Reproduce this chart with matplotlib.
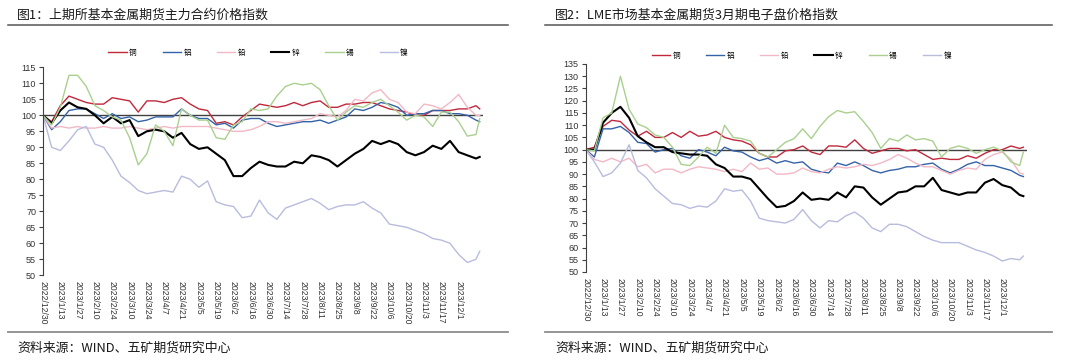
import pandas as pd
import matplotlib
matplotlib.use('Agg')
import matplotlib.pyplot as plt
from matplotlib.lines import Line2D

plt.rcParams['font.family'] = ['Noto Sans CJK SC', 'DejaVu Sans']

# weekly samples (index, 2022/12/30 = 100)
dates = list(pd.date_range('2022-12-30', periods=51, freq='7D')) + [pd.Timestamp('2023-12-18')]
tick_dates = pd.date_range('2022-12-30', '2023-12-01', freq='14D')
tick_labels = [f'{t.year}/{t.month}/{t.day}' for t in tick_dates]

metals = ['铜', '铝', '铅', '锌', '锡', '镍']
colors = ['#C0283C', '#3563A8', '#F2B8C6', '#000000', '#A9D08E', '#B8BCDD']
widths = [1.0, 1.0, 1.0, 1.5, 1.0, 1.0]

# 上期所
shfe_cu = [100, 98, 103, 106, 105, 104, 103.5, 103.5, 105.5, 105,
           104.5, 101, 104.5, 104.5, 104, 105, 105.5, 103.5, 102, 101.5,
           97.5, 98, 97, 99.5, 101.5, 103.5, 103, 102.5, 103, 104,
           103, 104, 104.5, 102.5, 102.5, 103.5, 103.5, 104, 104, 103,
           102, 101.5, 101, 100, 100, 101.5, 101.5, 101.5, 102, 102,
           103, 102]
shfe_al = [100, 95.5, 98, 101.5, 102, 102, 100.5, 99, 100.5, 99,
           99.5, 98, 98.5, 99.5, 99.5, 99.5, 102, 100, 99, 99,
           97, 97.5, 96, 98.5, 99, 99, 97.5, 96.5, 97, 97.5,
           98, 98, 98.5, 97.5, 98.5, 99.5, 102, 101.5, 102.5, 104,
           103.5, 102.5, 100, 100.5, 100.5, 101.5, 101.5, 100.5, 100.5, 100,
           98.5, 98]
shfe_pb = [100, 96, 96.5, 96, 96.5, 96, 96, 96.5, 96, 96,
           96.5, 96, 95.5, 96, 96.5, 96, 96.5, 96.5, 96.5, 96.5,
           96, 95.5, 95, 95, 95.5, 96.5, 98, 98, 97.5, 98,
           98.5, 99, 100.5, 100, 99.5, 101.5, 105, 104.5, 107, 108,
           105, 104, 101, 100.5, 103.5, 103, 102, 104, 106.5, 102.5,
           100, 100]
shfe_zn = [100, 97.5, 101.5, 104, 102.5, 102, 100, 97.5, 99.5, 97.5,
           98.5, 93.5, 95, 95.5, 95, 93, 94.5, 91, 89.5, 90,
           88, 86, 81, 81, 83.5, 85.5, 84.5, 84, 84, 85.5,
           85, 87.5, 87, 86, 84, 86, 88, 89.5, 92, 91,
           92, 91, 88.5, 87.5, 88.5, 90.5, 89.5, 92, 88.5, 87.5,
           86.5, 87]
shfe_sn = [100, 97, 102.5, 112.5, 112.5, 109, 103, 101.5, 99.5, 98.5,
           93, 84.5, 88, 97, 95, 90.5, 102, 100, 98.5, 98.5,
           93, 92.5, 97, 98, 102, 101.5, 102, 106, 109, 110,
           109.5, 110, 108, 103, 98.5, 101, 103, 102.5, 104, 105,
           103, 101, 98.5, 100, 99.5, 96.5, 101, 101, 98, 93.5,
           94, 99]
shfe_ni = [100, 90, 89, 92, 95.5, 96.5, 91, 90, 86, 81,
           79, 76.5, 75.5, 76, 76.5, 76, 81, 80, 77.5, 79.5,
           73, 72, 71.5, 68, 68.5, 73.5, 69.5, 67.5, 71, 72,
           73, 74, 72.5, 70.5, 71.5, 72, 72, 73, 71, 69.5,
           66, 65.5, 65, 64, 63, 61.5, 61, 60, 56.5, 54,
           55, 57.5]

# LME
lme_cu = [100, 101, 109.5, 112, 111.5, 108, 105.5, 107.5, 105, 105,
          107, 105, 107.5, 105.5, 106, 107.5, 105, 104, 103.5, 102,
          98.5, 97, 97, 99.5, 100, 101.5, 99, 98, 101.5, 101.5,
          101, 104, 100.5, 98.5, 99.5, 100.5, 100.5, 99.5, 100, 98,
          96, 96.5, 96, 96, 97.5, 96.5, 98.5, 100, 100, 101.5,
          100.5, 101]
lme_al = [100, 97, 108.5, 108.5, 109.5, 107, 103, 102.5, 99, 100,
          100.5, 97.5, 96.5, 100, 99, 97.5, 101, 99.5, 99, 97,
          95.5, 96.5, 94.5, 95.5, 94.5, 95, 92, 91, 90.5, 94.5,
          93.5, 95, 93.5, 91.5, 90.5, 91.5, 92, 93, 93, 94,
          94.5, 92, 90.5, 92, 94, 95, 93.5, 93.5, 92.5, 91.5,
          89.5, 89]
lme_pb = [100, 96, 95, 96.5, 95, 96.5, 93, 94, 90.5, 92,
          92, 90.5, 92, 93, 92.5, 92, 91, 92, 91, 94.5,
          92, 92.5, 90, 90, 90.5, 92.5, 91, 90.5, 92, 93,
          92.5, 93, 94, 93.5, 94.5, 96, 98, 96.5, 94.5, 93,
          93, 91.5, 90, 91.5, 92.5, 92, 96, 98, 99, 96,
          90.5, 90]
lme_zn = [100, 100, 111, 115, 117.5, 113, 105.5, 103, 101, 101,
          99, 98.5, 98, 98, 97.5, 94, 92.5, 89, 89, 88,
          84, 80, 76.5, 77, 79, 82.5, 79.5, 80, 79.5, 82.5,
          80.5, 85, 84.5, 80.5, 77.5, 80, 82.5, 83, 85, 85,
          88.5, 83.5, 82.5, 81.5, 82.5, 82.5, 86.5, 88, 85.5, 84.5,
          81.5, 81]
lme_sn = [100, 99.5, 113, 115, 130, 116.5, 110.5, 109, 106, 105,
          101, 94, 93.5, 97, 101, 98.5, 110, 105, 104.5, 103.5,
          98.5, 97, 100, 103, 104.5, 108.5, 104.5, 109.5, 113.5, 116,
          115, 115.5, 111.5, 107, 100.5, 104.5, 103.5, 106, 104, 104.5,
          103.5, 97, 100.5, 101.5, 100.5, 98.5, 100, 101, 99.5, 95,
          93.5, 99]
lme_ni = [100, 95, 89, 90.5, 94.5, 102, 91.5, 88.5, 84, 81,
          78, 77.5, 76, 77, 76.5, 79, 84, 83, 83.5, 79,
          72, 71, 70.5, 70, 71.5, 75.5, 71, 68, 71, 70.5,
          73, 74.5, 72, 68, 66.5, 69.5, 69.5, 68.5, 66.5, 64.5,
          63, 62, 62, 62, 60.5, 59, 58, 56.5, 54.5, 55.5,
          55, 56.5]

panels = [
    dict(title='图1：上期所基本金属期货主力合约价格指数',
         series=[shfe_cu, shfe_al, shfe_pb, shfe_zn, shfe_sn, shfe_ni],
         rect=[0.0398, 0.2416, 0.4078, 0.573], ymax=115,
         title_x=0.0157, rule=(0.0074, 0.4704), legend=(0.239, 0.854)),
    dict(title='图2：LME市场基本金属期货3月期电子盘价格指数',
         series=[lme_cu, lme_al, lme_pb, lme_zn, lme_sn, lme_ni],
         rect=[0.5423, 0.2507, 0.4087, 0.573], ymax=135,
         title_x=0.5139, rule=(0.5046, 0.9741), legend=(0.742, 0.846)),
]

fig = plt.figure(figsize=(10.8, 3.63), dpi=100)
start = pd.Timestamp('2022-12-30')

for p in panels:
    ax = fig.add_axes(p['rect'])
    ax.axhline(100, color='#404040', lw=1.0, zorder=1)
    for vals, name, c, w in zip(p['series'], metals, colors, widths):
        ax.plot(dates, vals, color=c, lw=w, label=name, zorder=2)

    ax.set_xlim(start, start + pd.Timedelta(days=356))
    ax.set_ylim(50, p['ymax'])
    ax.set_yticks(range(50, p['ymax'] + 1, 5))
    ax.set_xticks(tick_dates)
    ax.set_xticklabels(tick_labels, rotation=-90, ha='center', va='top',
                       fontsize=6.2, family='Liberation Sans', color='#333333')
    for lab in ax.get_yticklabels():
        lab.set_fontfamily('Liberation Sans')
    ax.tick_params(axis='x', length=0, pad=4)
    ax.tick_params(axis='y', length=3, width=0.8, color='#404040',
                   labelsize=6.5, labelcolor='#333333', pad=2)
    for s in ['top', 'right', 'bottom']:
        ax.spines[s].set_visible(False)
    ax.spines['left'].set_color('#404040')
    ax.spines['left'].set_linewidth(0.8)

    ax.legend(loc='center', bbox_to_anchor=p['legend'], bbox_transform=fig.transFigure,
              ncol=6, frameon=False, fontsize=5.5, handlelength=2.4,
              handletextpad=0.3, columnspacing=3.4)

    fig.text(p['title_x'], 0.9587, p['title'], fontsize=9.3, color='#1a1a1a',
             ha='left', va='center')
    fig.add_artist(Line2D(p['rule'], [0.9298, 0.9298], color='#555555', lw=1.1,
                          transform=fig.transFigure))
    fig.add_artist(Line2D(p['rule'], [0.0846, 0.0846], color='#8c8c8c', lw=1.3,
                          transform=fig.transFigure))
    fig.text(p['title_x'], 0.0413, '资料来源：WIND、五矿期货研究中心', fontsize=9.3,
             color='#1a1a1a', ha='left', va='center')

fig.savefig('out.png', dpi=100)
